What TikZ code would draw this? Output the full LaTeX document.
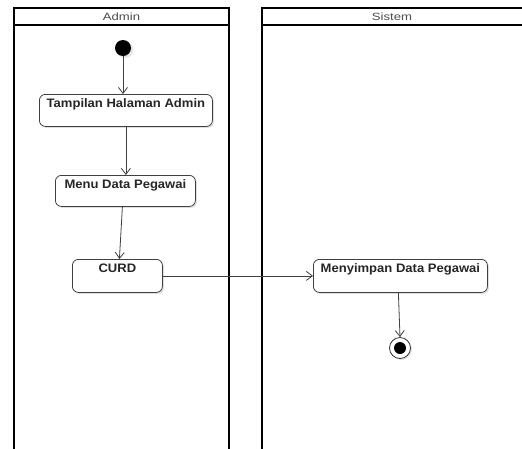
\documentclass[tikz,border=0pt]{standalone}
\usepackage{fontspec}
\setmainfont{Liberation Sans}
\newfontfamily\lanefont[FakeStretch=1.25]{Liberation Sans}
\newfontfamily\actfont[FakeStretch=1.06]{Liberation Sans}
\usetikzlibrary{arrows.meta,shadows}
\begin{document}
\begin{tikzpicture}[x=1pt,y=-1pt,
  lane/.style={draw=black,line width=1.3pt},
  lanetitle/.style={font=\lanefont\fontsize{10.5}{12}\selectfont,text=black!70},
  act/.style={draw=black!75,line width=0.8pt,rounded corners=6pt,fill=white,
    drop shadow={shadow xshift=1.5pt,shadow yshift=-1.5pt,opacity=0.25},
    font=\actfont\bfseries\fontsize{12.3}{14}\selectfont,text=black!85,
    anchor=north west,inner xsep=3pt,inner ysep=0pt,align=center,text height=13pt},
  flow/.style={draw=black!75,line width=0.8pt,-{Straight Barb[length=6pt,width=9pt]}},
  startnode/.style={circle,fill=black,minimum size=16pt,inner sep=0pt,
    drop shadow={shadow xshift=2pt,shadow yshift=-2pt,opacity=0.2}},
  endouter/.style={circle,draw=black!80,line width=0.8pt,fill=white,minimum size=21pt,inner sep=0pt,
    drop shadow={shadow xshift=1.5pt,shadow yshift=-1.5pt,opacity=0.2}},
  endinner/.style={circle,fill=black,minimum size=12pt,inner sep=0pt}]
\useasboundingbox (0,0) rectangle (522,448);
\fill[white] (0,0) rectangle (522,448);

% swimlanes
\draw[lane] (14,452) -- (14,8) -- (229,8) -- (229,452);
\draw[lane] (14,25) -- (229,25);
\draw[lane] (262,452) -- (262,8) -- (526,8);
\draw[lane] (262,25) -- (526,25);
\node[lanetitle] (tAdmin) at (121.5,16.5) {Admin};
\node[lanetitle] (tSistem) at (392,16.5) {Sistem};

% activities
\node[startnode] (start) at (123,48) {};
\node[act,minimum width=173pt,text depth=19pt] (tampil) at (39,94) {Tampilan Halaman Admin};
\node[act,minimum width=140pt,text depth=18pt] (menu) at (55,175) {Menu Data Pegawai};
\node[act,minimum width=90pt,text depth=20pt] (curd) at (72,259) {CURD};
\node[act,minimum width=174pt,text depth=20pt] (simpan) at (313,259) {Menyimpan Data Pegawai};
\node[endouter] (endo) at (400,348) {};
\node[endinner] (endi) at (endo.center) {};

% control flow
\draw[flow] (start) -- (tampil.north -| start);
\draw[flow] (tampil.south) -- (menu.north -| tampil.south);
\draw[flow] ([xshift=-3pt]menu.south) -- ([xshift=2pt]curd.north);
\draw[flow] (curd.east) -- (curd.east -| simpan.west);
\draw[flow] ([xshift=-2pt]simpan.south) -- (endo.north);
\end{tikzpicture}
\end{document}
